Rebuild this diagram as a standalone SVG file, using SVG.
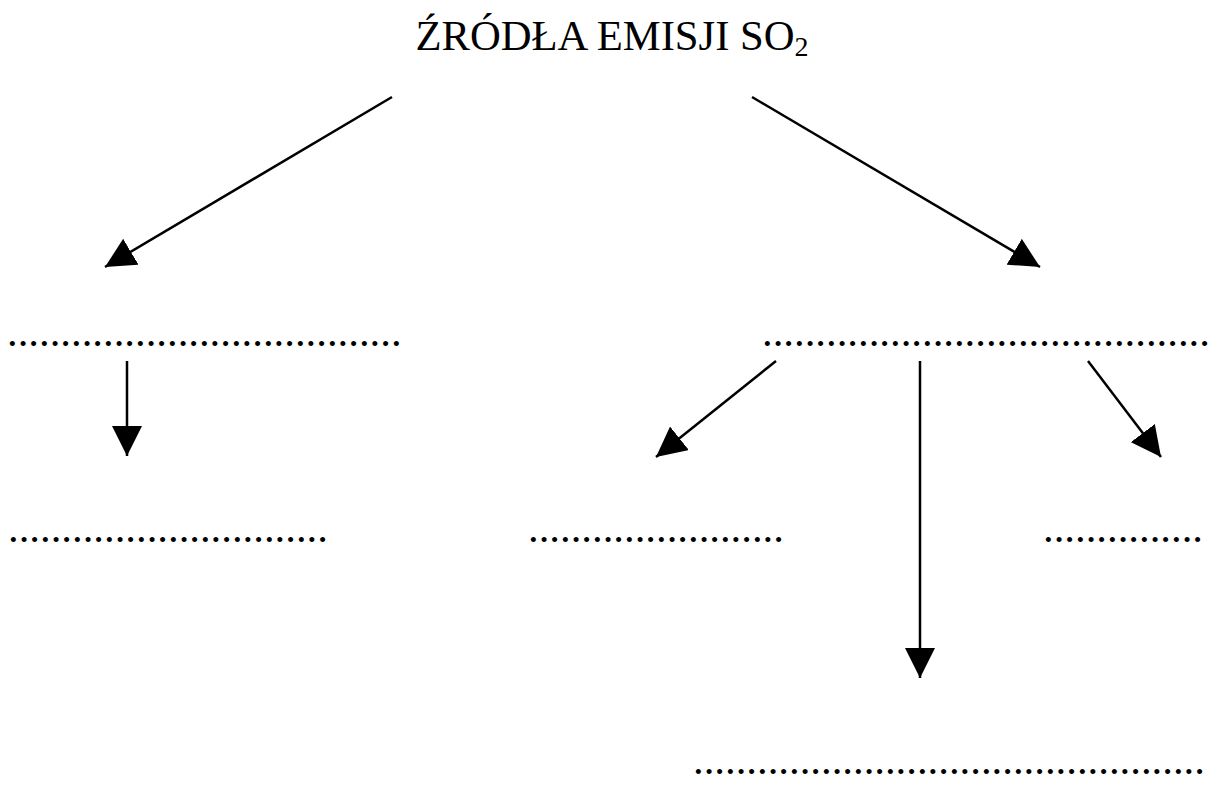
<svg xmlns="http://www.w3.org/2000/svg" width="1208" height="787" viewBox="0 0 1208 787">
<style>
.t{font-family:"Liberation Serif","Times New Roman",serif;font-size:42.67px;fill:#000}
.c{stroke:#000;stroke-width:2.5;fill:none}
</style>
<defs>
<marker id="ah" markerUnits="userSpaceOnUse" markerWidth="30" markerHeight="30" viewBox="0 0 28 28" refX="28" refY="14" orient="auto">
<path d="M0,0 L28,14 L0,28 Z" fill="#000"/>
</marker>
</defs>
<rect width="1208" height="787" fill="#fff"/>
<g id="title"><text class="t" x="612" y="50" text-anchor="middle">ŹRÓDŁA EMISJI SO<tspan font-size="28" dy="6">2</tspan></text></g>
<g id="n1"><text class="t" x="7" y="346">.....................................</text></g>
<g id="n2"><text class="t" x="762" y="346">..........................................</text></g>
<g id="n3"><text class="t" x="8" y="542">..............................</text></g>
<g id="n4"><text class="t" x="528" y="542">........................</text></g>
<g id="n5"><text class="t" x="1043" y="542">...............</text></g>
<g id="n6"><text class="t" x="693" y="774">................................................</text></g>
<g id="connectors">
<line class="c" x1="392" y1="97" x2="105" y2="267" marker-end="url(#ah)"/>
<line class="c" x1="752" y1="97" x2="1040" y2="267" marker-end="url(#ah)"/>
<line class="c" x1="127" y1="361" x2="127" y2="456" marker-end="url(#ah)"/>
<line class="c" x1="776" y1="361" x2="656" y2="457" marker-end="url(#ah)"/>
<line class="c" x1="920" y1="361" x2="920" y2="678" marker-end="url(#ah)"/>
<line class="c" x1="1088" y1="361" x2="1161" y2="457" marker-end="url(#ah)"/>
</g>
</svg>
